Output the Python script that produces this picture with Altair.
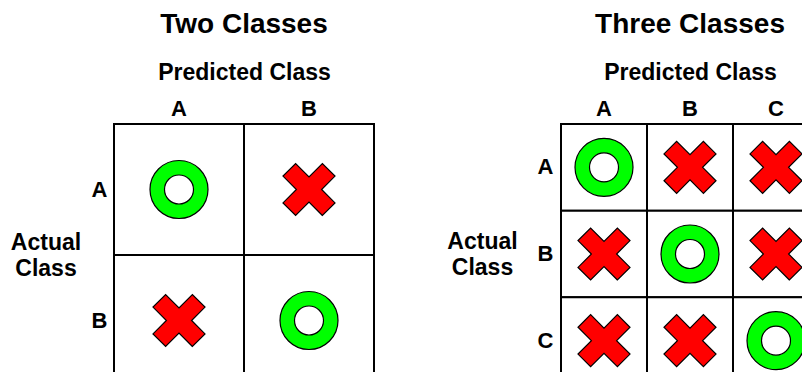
import altair as alt
import pandas as pd

# ---- data ----
two_classes = ["A", "B"]
two_actual = ["A", "A", "B", "B"]
two_predicted = ["A", "B", "A", "B"]
two_outcome = ["correct", "wrong", "wrong", "correct"]

three_classes = ["A", "B", "C"]
three_actual = ["A", "A", "A", "B", "B", "B", "C", "C", "C"]
three_predicted = ["A", "B", "C", "A", "B", "C", "A", "B", "C"]
three_outcome = ["correct", "wrong", "wrong",
                 "wrong", "correct", "wrong",
                 "wrong", "wrong", "correct"]

FONT = "Liberation Sans"
GREEN = "#00FF00"
RED = "#FF0000"
# an "X" glyph (rotated plus) in the unit symbol box
X_PATH = ("M0.515,1L0,0.485L-0.515,1L-1,0.515L-0.485,0L-1,-0.515L-0.515,-1"
          "L0,-0.485L0.515,-1L1,-0.515L0.485,0L1,0.515Z")


def matrix(title, classes, actual, predicted, outcome, w, h, row_title_x, label_pad):
    df = pd.DataFrame({"actual": actual, "predicted": predicted, "outcome": outcome})
    scale = alt.Scale(domain=classes, paddingInner=0, paddingOuter=0)
    x = alt.X(
        "predicted:N", sort=classes, scale=scale,
        axis=alt.Axis(
            orient="top", title="Predicted Class", labelAngle=0,
            ticks=False, tickSize=0, domain=False, grid=False,
            labelPadding=9, labelBaseline="alphabetic",
            labelFont=FONT, labelFontSize=22, labelFontWeight="bold", labelColor="black",
            titleFont=FONT, titleFontSize=23, titleFontWeight="bold", titleColor="black",
            titleX=w / 2, titleY=-45, titleBaseline="alphabetic", titleAlign="center",
        ),
    )
    y = alt.Y(
        "actual:N", sort=classes, scale=scale,
        axis=alt.Axis(
            orient="left", title=["Actual", "Class"], titleAngle=0,
            titleX=row_title_x, titleY=h / 2 - 13, titleAlign="center",
            titleBaseline="middle", titleLineHeight=26.5,
            ticks=False, tickSize=0, domain=False, grid=False,
            labelPadding=label_pad, labelBaseline="middle",
            labelFont=FONT, labelFontSize=22, labelFontWeight="bold", labelColor="black",
            titleFont=FONT, titleFontSize=23, titleFontWeight="bold", titleColor="black",
        ),
    )
    base = alt.Chart(df)
    cells = base.mark_rect(fill="white", stroke="black", strokeWidth=2).encode(x=x, y=y)
    correct = base.transform_filter(alt.datum.outcome == "correct")
    wrong = base.transform_filter(alt.datum.outcome == "wrong")
    ring_outer = correct.mark_point(
        shape="circle", filled=True, fill=GREEN, stroke="black",
        strokeWidth=1.2, size=58 * 58, opacity=1,
    ).encode(x=x, y=y)
    ring_inner = correct.mark_point(
        shape="circle", filled=True, fill="white", stroke="black",
        strokeWidth=1.2, size=29 * 29, opacity=1,
    ).encode(x=x, y=y)
    cross = wrong.mark_point(
        shape=X_PATH, filled=True, fill=RED, stroke="black",
        strokeWidth=1.2, size=52 * 52, opacity=1,
    ).encode(x=x, y=y)
    return alt.layer(cells, ring_outer, ring_inner, cross).properties(
        width=w, height=h,
        title=alt.TitleParams(
            title, font=FONT, fontSize=28, fontWeight="bold", color="black",
            anchor="middle", frame="group", baseline="alphabetic", offset=0,
        ),
    )


left = matrix("Two Classes", two_classes, two_actual, two_predicted, two_outcome,
              260, 262, -68.5, 7)
right = matrix("Three Classes", three_classes, three_actual, three_predicted, three_outcome,
               258, 260, -79, 8)

# fixed-size 794x364 canvas: the first plot's corner sits at (106, 116);
# content running past the right and bottom edges is cut off, as in the reference
chart = alt.hconcat(left, right, spacing=71).properties(
    autosize=alt.AutoSizeParams(type="none"),
    padding={"left": 106, "top": 116, "right": 688, "bottom": 248},
    background="white",
).configure_view(stroke=None)

chart.save("out.html", embed_options={"renderer": "svg", "actions": False})
